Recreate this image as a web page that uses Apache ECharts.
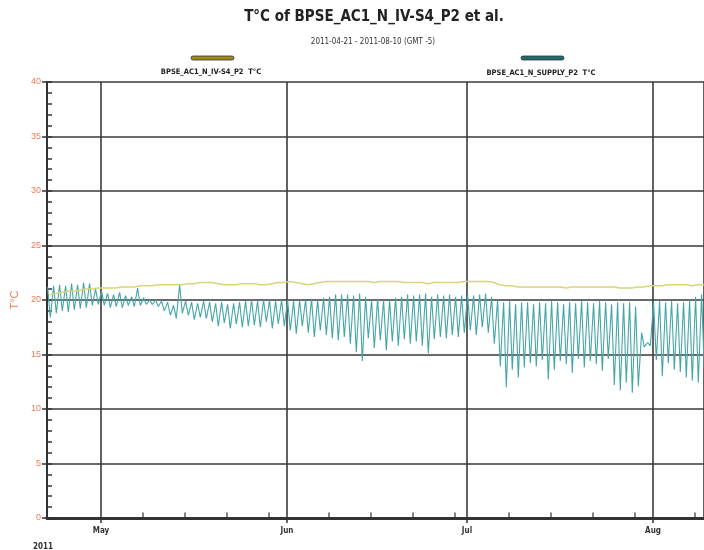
<!DOCTYPE html>
<html>
<head>
<meta charset="utf-8">
<script src="https://cdn.jsdelivr.net/npm/echarts@6/dist/echarts.min.js"></script>
<style>
  html, body { margin: 0; padding: 0; background: #fff; }
  #chart { width: 704px; height: 550px; }
</style>
</head>
<body>
<div id="chart"></div>
<script>
// Temperature of two sensors, one value per day starting 2011-04-22 (UTC)
const START = Date.UTC(2011, 3, 22);
const DAY = 86400000;

// BPSE_AC1_N_IV-S4_P2 (zone temperature), daily level
const zoneTemp = [
    20.5, 20.6, 20.7, 20.8, 20.8, 20.9, 21.0, 21.0, 21.1, 21.1,
    21.1, 21.1, 21.2, 21.2, 21.2, 21.3, 21.3, 21.3, 21.4, 21.4,
    21.4, 21.4, 21.4, 21.5, 21.5, 21.6, 21.6, 21.6, 21.5, 21.4,
    21.4, 21.4, 21.5, 21.5, 21.5, 21.4, 21.4, 21.5, 21.6, 21.6,
    21.7, 21.6, 21.5, 21.4, 21.5, 21.6, 21.7, 21.7, 21.7, 21.7,
    21.7, 21.7, 21.7, 21.7, 21.6, 21.7, 21.7, 21.7, 21.7, 21.6,
    21.6, 21.6, 21.6, 21.5, 21.6, 21.6, 21.6, 21.6, 21.6, 21.7,
    21.7, 21.7, 21.7, 21.7, 21.6, 21.4, 21.3, 21.3, 21.2, 21.2,
    21.2, 21.2, 21.2, 21.2, 21.2, 21.2, 21.1, 21.2, 21.2, 21.2,
    21.2, 21.2, 21.2, 21.2, 21.2, 21.1, 21.1, 21.1, 21.2, 21.2,
    21.3, 21.3, 21.3, 21.4, 21.4, 21.4, 21.4, 21.3, 21.4, 21.4
];

// BPSE_AC1_N_SUPPLY_P2, daily high and low
const supplyHigh = [
    21.2, 21.3, 21.4, 21.3, 21.5, 21.4, 21.6, 21.5, 21.0, 20.8,
    20.6, 20.5, 20.7, 20.4, 20.3, 21.1, 20.2, 20.0, 20.0, 19.9,
    19.8, 19.5, 21.4, 19.9, 19.8, 19.7, 19.9, 19.8, 19.7, 19.8,
    19.6, 19.7, 19.8, 19.9, 20.0, 19.9, 20.0, 20.0, 19.9, 20.0,
    20.0, 19.9, 20.0, 20.0, 20.1, 20.0, 20.2, 20.3, 20.5, 20.5,
    20.5, 20.4, 20.6, 20.3, 20.0, 20.1, 20.0, 20.0, 20.2, 20.3,
    20.5, 20.4, 20.5, 20.6, 20.3, 20.5, 20.4, 20.5, 20.3, 20.4,
    20.5, 20.4, 20.5, 20.6, 20.3, 20.0, 19.8, 19.9, 19.6, 19.8,
    19.8, 19.6, 19.8, 19.7, 19.9, 19.8, 19.6, 19.8, 19.7, 19.9,
    19.8, 19.7, 19.9, 19.8, 19.6, 19.8, 19.7, 19.8, 19.4, 17.0,
    16.1, 19.8, 19.9, 19.8, 19.9, 19.7, 19.8, 20.0, 20.3, 20.5
];
const supplyLow = [
    18.4, 18.8, 19.0, 18.9, 19.1, 19.2, 19.3, 19.5, 19.6, 19.5,
    19.3, 19.4, 19.3, 19.5, 19.4, 19.5, 19.6, 19.6, 19.4, 19.0,
    18.6, 18.3, 18.8, 18.6, 18.2, 18.4, 18.3, 18.0, 17.6, 17.9,
    17.4, 17.8, 17.5, 17.6, 17.7, 17.5, 18.0, 17.4, 17.8, 17.6,
    17.2, 16.9, 17.6, 17.0, 16.6, 17.2, 16.8, 16.5, 16.3, 16.6,
    16.0, 15.2, 14.4, 16.5, 15.6, 16.3, 15.4, 16.2, 15.8, 16.4,
    16.0, 16.2, 15.8, 15.1, 16.4, 16.6, 16.5, 16.8, 16.6, 17.0,
    17.2, 16.8, 17.5, 17.0, 16.0, 13.9, 12.0, 13.6, 12.9, 13.8,
    14.2, 13.9, 14.5, 12.7, 13.6, 14.4, 14.1, 13.3, 14.6, 13.8,
    14.4, 14.1, 13.5, 14.6, 12.2, 11.7, 12.4, 11.5, 12.1, 15.7,
    15.8, 14.5, 13.0, 14.2, 13.6, 13.4, 12.9, 12.6, 12.4, 13.5
];

// weekly minor ticks on the time axis
const weekTicks = [
    '2011-05-08', '2011-05-15', '2011-05-22', '2011-05-29',
    '2011-06-08', '2011-06-15', '2011-06-22', '2011-06-29',
    '2011-07-08', '2011-07-15', '2011-07-22', '2011-07-29', '2011-08-08'
];

const MONTHS = ['Jan', 'Feb', 'Mar', 'Apr', 'May', 'Jun', 'Jul', 'Aug', 'Sep', 'Oct', 'Nov', 'Dec'];
const ORANGE = '#f27a52';
const GRIDC = '#3a3a3a';
const COND = '"DejaVu Sans Condensed", "Liberation Sans"';

const zoneData = zoneTemp.map((v, i) => [START + i * DAY + 0.5 * DAY, v]);
const supplyData = [];
supplyHigh.forEach((h, i) => {
    supplyData.push([START + i * DAY + 0.1 * DAY, h]);
    supplyData.push([START + i * DAY + 0.55 * DAY, supplyLow[i]]);
});
const tickData = weekTicks.map(d => [Date.parse(d + 'T00:00:00Z'), 0]);

const chart = echarts.init(document.getElementById('chart'), null, { renderer: 'canvas' });

const option = {
    useUTC: true,
    animation: false,
    backgroundColor: '#fff',
    grid: { left: 47, top: 82, width: 657, height: 436 },
    xAxis: {
        type: 'time',
        min: START,
        max: START + 109.5 * DAY,
        minInterval: 28 * DAY,
        maxInterval: 31 * DAY,
        axisLine: { lineStyle: { color: '#333', width: 3 } },
        axisTick: { show: true, length: 5, lineStyle: { color: '#333', width: 1.5 } },
        axisLabel: {
            color: '#333', fontSize: 8, fontWeight: 'bold', fontFamily: 'DejaVu Sans Condensed', margin: 9,
            formatter: v => MONTHS[new Date(v).getUTCMonth()],
            showMinLabel: false, showMaxLabel: false
        },
        splitLine: { show: true, lineStyle: { color: GRIDC, width: 1.6 } }
    },
    yAxis: [{
        type: 'value', min: 0, max: 40, interval: 5,
        name: 'T°C', nameLocation: 'middle', nameGap: 27, nameRotate: 90,
        nameTextStyle: { color: ORANGE, fontSize: 11, fontFamily: 'Liberation Sans' },
        axisLine: { show: true, lineStyle: { color: '#333', width: 2 } },
        axisTick: { show: true, length: 5, lineStyle: { color: '#333', width: 1.5 } },
        axisLabel: { color: ORANGE, fontSize: 9, fontFamily: 'Liberation Sans', margin: 6 },
        splitLine: { show: true, lineStyle: { color: GRIDC, width: 1.6 } }
    }, {
        type: 'value', min: 0, max: 40, interval: 1, position: 'left',
        axisLine: { show: false },
        axisTick: { show: true, inside: true, length: 5, lineStyle: { color: '#333', width: 1.5 } },
        axisLabel: { show: false },
        splitLine: { show: false }
    }],
    graphic: [
        { type: 'text', style: { x: 374, y: 17, text: 'T°C of BPSE_AC1_N_IV-S4_P2 et al.', textAlign: 'center', textVerticalAlign: 'middle', fill: '#222', font: 'bold 15px ' + COND } },
        { type: 'text', style: { x: 373, y: 42, text: '2011-04-21 - 2011-08-10 (GMT -5)', textAlign: 'center', textVerticalAlign: 'middle', fill: '#333', font: '8px ' + COND } },
        { type: 'rect', shape: { x: 191, y: 56, width: 43, height: 4, r: 2 }, style: { fill: '#9c8a1a', stroke: '#333', lineWidth: 0.8 } },
        { type: 'text', style: { x: 211, y: 72, text: 'BPSE_AC1_N_IV-S4_P2  T°C', textAlign: 'center', textVerticalAlign: 'middle', fill: '#222', font: 'bold 7.5px ' + COND } },
        { type: 'rect', shape: { x: 521, y: 56, width: 43, height: 4, r: 2 }, style: { fill: '#1d6d6d', stroke: '#333', lineWidth: 0.8 } },
        { type: 'text', style: { x: 541, y: 73, text: 'BPSE_AC1_N_SUPPLY_P2  T°C', textAlign: 'center', textVerticalAlign: 'middle', fill: '#222', font: 'bold 7.5px ' + COND } },
        { type: 'text', style: { x: 33, y: 547, text: '2011', textVerticalAlign: 'middle', fill: '#333', font: 'bold 8px ' + COND } }
    ],
    series: [{
        name: 'BPSE_AC1_N_SUPPLY_P2 T°C',
        type: 'line',
        data: supplyData,
        showSymbol: false,
        lineStyle: { color: '#45a6a8', width: 1.1 },
        z: 3
    }, {
        name: 'BPSE_AC1_N_IV-S4_P2 T°C',
        type: 'line',
        data: zoneData,
        showSymbol: false,
        lineStyle: { color: '#dcd47a', width: 1.5 },
        z: 4
    }, {
        type: 'scatter',
        data: tickData,
        symbol: 'rect',
        symbolSize: [1.5, 5],
        symbolOffset: [0, -3],
        itemStyle: { color: '#333' },
        silent: true,
        clip: false,
        z: 5
    }]
};

chart.setOption(option);
</script>
</body>
</html>
